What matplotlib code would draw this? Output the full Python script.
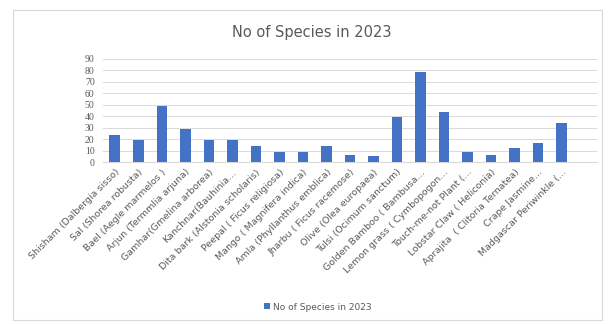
import matplotlib.pyplot as plt
import numpy as np
from matplotlib.patches import Rectangle

species = [
    "Shisham (Dalbergia sisso)",
    "Sal (Shorea robusta)",
    "Bael (Aegle marmelos )",
    "Arjun (Termmlia arjuna)",
    "Gamhar(Gmelina arborea)",
    "Kanchnar(Bauhinia\u2026",
    "Dita bark (Alstonia scholaris)",
    "Peepal ( Ficus religiosa)",
    "Mango ( Magnifera indica)",
    "Amla (Phyllanthus emblica)",
    "Jharbu ( Ficus racemose)",
    "Olive (Olea europaea)",
    "Tulsi (Ocimum sanctum)",
    "Golden Bamboo ( Bambusa\u2026",
    "Lemon grass ( Cymbopogon\u2026",
    "Touch-me-not Plant (\u2026",
    "Lobstar Claw ( Heliconia)",
    "Aprajita  ( Clitoria Ternatea)",
    "Crape Jasmine\u2026",
    "Madgascar Periwinkle (\u2026",
]
counts_2023 = [24, 19, 49, 29, 19, 19, 14, 9, 9, 14, 6, 5, 39, 79, 44, 9, 6, 12, 17, 34]
y_ticks = [0, 10, 20, 30, 40, 50, 60, 70, 80, 90]

bar_color = "#4472C4"
text_gray = "#595959"
grid_gray = "#D9D9D9"

fig = plt.figure(figsize=(6.09, 3.24), dpi=100)
fig.patches.append(Rectangle((13 / 609, 4 / 324), 589 / 609, 310 / 324,
                             transform=fig.transFigure, fill=False,
                             edgecolor="#D9D9D9", linewidth=0.8))

ax = fig.add_axes([103 / 609, 1 - 162 / 324, 494 / 609, 103 / 324])
x = np.arange(len(species))
ax.bar(x, counts_2023, width=0.45, color=bar_color, label="No of Species in 2023", zorder=3)

ax.set_xlim(-0.5, len(species) + 0.5)
ax.set_ylim(0, 90)
ax.set_yticks(y_ticks)
ax.set_yticklabels([str(t) for t in y_ticks], family="Liberation Serif", fontsize=7, color=text_gray)
ax.yaxis.grid(True, color=grid_gray, linewidth=0.7, zorder=0)
ax.tick_params(axis="y", length=0, pad=6)
ax.tick_params(axis="x", length=0, pad=4)
ax.set_xticks(x)
ax.set_xticklabels(species, rotation=45, ha="right", rotation_mode="anchor",
                   fontsize=6.8, color=text_gray)

for side in ["top", "right", "left"]:
    ax.spines[side].set_visible(False)
ax.spines["bottom"].set_color(grid_gray)

fig.text(312 / 609, 1 - 32 / 324, "No of Species in 2023", ha="center", va="center",
         fontsize=10.5, color=text_gray)

fig.legend(loc="center", bbox_to_anchor=(318 / 609, 1 - 307 / 324), frameon=False,
           fontsize=6.5, labelcolor=text_gray, handlelength=0.6, handleheight=0.6,
           handletextpad=0.4)

fig.savefig("out.png", dpi=100)
